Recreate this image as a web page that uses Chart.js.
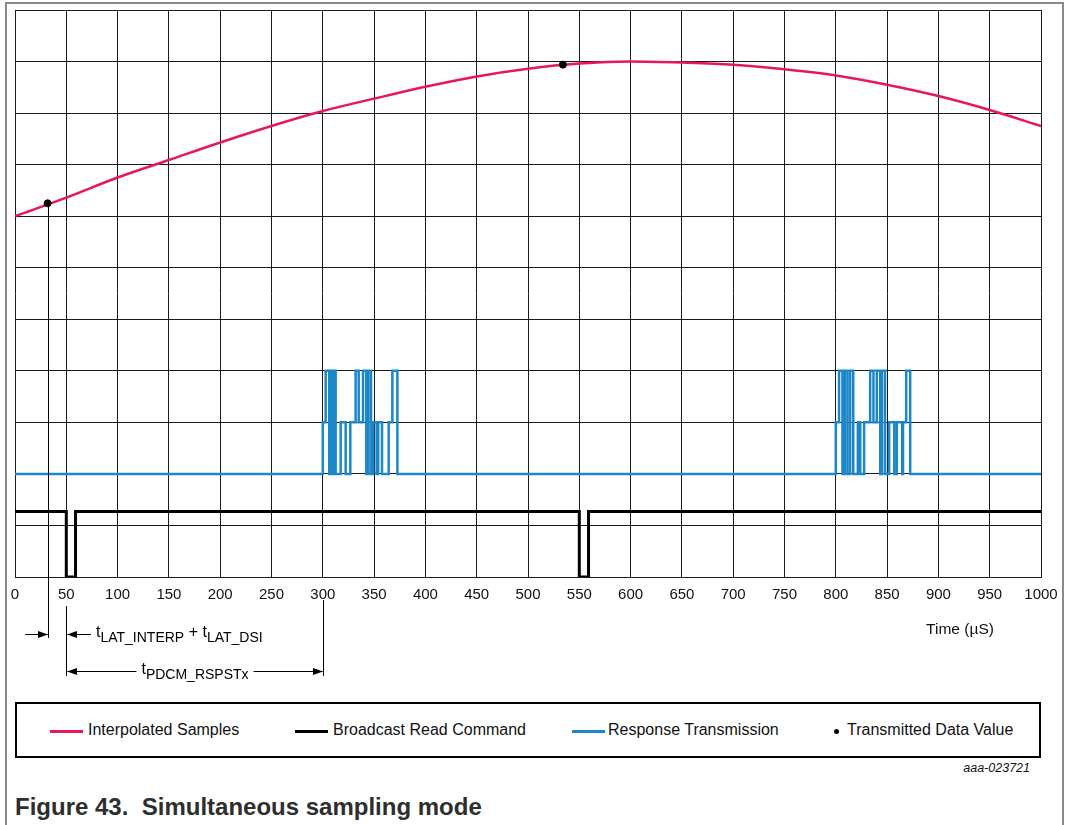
<!DOCTYPE html>
<html>
<head>
<meta charset="utf-8">
<script src="https://cdn.jsdelivr.net/npm/chart.js@4.4.0/dist/chart.umd.min.js"></script>
<style>
  html, body { margin: 0; padding: 0; background: #fff; }
  #wrap { position: relative; width: 1073px; height: 825px; overflow: hidden; font-family: Arial, "Liberation Sans", sans-serif; }
  #frame { position: absolute; left: 5px; top: 2px; width: 1059px; height: 900px; border: 2px solid #8a8a8a; box-sizing: border-box; }
  #chartBox { position: absolute; left: 0; top: 0; width: 1073px; height: 690px; }
  #legend { position: absolute; left: 15px; top: 702px; width: 1026px; height: 56px; border: 2px solid #000; box-sizing: border-box; }
  .sw { position: absolute; height: 3px; top: 26px; }
  .lt { position: absolute; top: 16px; font-size: 16px; color: #111; white-space: nowrap; line-height: 20px; }
  .dot { position: absolute; width: 5px; height: 5px; border-radius: 50%; background: #000; top: 25px; }
  #code { position: absolute; right: 43px; top: 761px; font-size: 12.5px; font-style: italic; color: #111; }
  #title { position: absolute; left: 15px; top: 793px; font-size: 24px; font-weight: bold; color: #2e2e2e; white-space: nowrap; line-height: 28px; }
</style>
</head>
<body>
<div id="wrap">
  <div id="frame"></div>
  <div id="chartBox"><canvas id="c" width="1073" height="690"></canvas></div>
  <div id="legend"></div>
  <div id="code">aaa-023721</div>
  <div id="title">Figure 43.&nbsp; Simultaneous sampling mode</div>
</div>
<script>
// ---- data ----
const xTicks = [0,50,100,150,200,250,300,350,400,450,500,550,600,650,700,750,800,850,900,950,1000];

const curveX = [0, 50, 100, 150, 200, 250, 300, 350, 400, 450, 500, 550, 600, 650, 700, 750, 800, 850, 900, 950, 1000];
const curveY = [7.0, 7.36, 7.75, 8.09, 8.43, 8.75, 9.04, 9.28, 9.51, 9.71, 9.86, 9.96, 10.0, 9.98, 9.94, 9.85, 9.73, 9.55, 9.33, 9.06, 8.75];

const bcX = [0, 50, 59, 550, 559, 1000];
const bcY = [1.27, 0, 1.27, 0, 1.27, 1.27];

const rtX = [0, 300, 302.8, 306.3, 308.6, 310.2, 311.2, 312.5, 317.4, 322.3, 326.8, 332, 335, 339.2, 342.4, 344.4, 347, 349, 352.5, 354, 357.7, 364.2, 367.8, 372.7,
             800, 803.2, 806.5, 808.8, 811.4, 814, 817, 821.5, 823.8, 827.6, 833.5, 836.7, 840, 843.3, 845, 848, 852, 857, 859.5, 864.7, 865.5, 868.6, 872.5, 1000];
const rtY = [2, 3, 4, 2, 4, 2, 4, 2, 3, 2, 3, 4, 3, 4, 2, 4, 2, 3, 2, 3, 2, 3, 4, 2,
             3, 4, 2, 4, 2, 4, 2, 3, 2, 3, 4, 3, 4, 2, 4, 2, 3, 2, 3, 2, 3, 4, 2, 2];

const dotX = [31.8, 534];
const dotY = [7.25, 9.94];

const seriesNames = ['Interpolated Samples', 'Broadcast Read Command', 'Response Transmission', 'Transmitted Data Value'];
const seriesColors = ['#e8175d', '#000000', '#1b87c9', '#000000'];

const latLabel = ['t', 'LAT_INTERP', ' + ', 't', 'LAT_DSI'];
const pdcmLabel = ['t', 'PDCM_RSPSTx'];
const axisTitle = 'Time (µS)';

// ---- build ----
const zip = (xs, ys) => xs.map((x, i) => ({ x: x, y: ys[i] }));

const FONT = 'Arial, "Liberation Sans", sans-serif';

function arrowHead(ctx, x, y, dir) {
  ctx.beginPath();
  ctx.moveTo(x, y);
  ctx.lineTo(x - dir * 10, y - 3.5);
  ctx.lineTo(x - dir * 10, y + 3.5);
  ctx.closePath();
  ctx.fill();
}

function isSubPart(p) { return p !== ' + ' && p !== 't'; }
function drawSubText(ctx, parts, x, y) {
  let cx = x;
  parts.forEach(p => {
    const sub = isSubPart(p);
    ctx.font = (sub ? '14px ' : '16px ') + FONT;
    ctx.fillText(p, cx, sub ? y + 5 : y);
    cx += ctx.measureText(p).width;
  });
  return cx;
}
function measureSubText(ctx, parts) {
  let w = 0;
  parts.forEach(p => {
    ctx.font = (isSubPart(p) ? '14px ' : '16px ') + FONT;
    w += ctx.measureText(p).width;
  });
  return w;
}

const annot = {
  id: 'annot',
  afterDraw(chart) {
    const ctx = chart.ctx;
    const xs = chart.scales.x, ys = chart.scales.y;
    const px = v => xs.getPixelForValue(v);
    ctx.save();
    ctx.strokeStyle = '#000';
    ctx.fillStyle = '#000';
    ctx.lineWidth = 1;
    const xd = Math.round(px(dotX[0])) + 0.5;
    const x50 = Math.round(px(bcX[1])) + 0.5;
    const x300 = Math.round(px(rtX[1])) + 0.5;
    const yDot = ys.getPixelForValue(dotY[0]);
    const yA = 634, yB = 671;
    ctx.beginPath();
    ctx.moveTo(xd, yDot); ctx.lineTo(xd, 638);
    ctx.moveTo(x50, 606); ctx.lineTo(x50, 676);
    ctx.moveTo(x300, 600); ctx.lineTo(x300, 676);
    ctx.stroke();
    ctx.beginPath(); ctx.moveTo(25, yA + 0.5); ctx.lineTo(xd - 1, yA + 0.5); ctx.stroke();
    arrowHead(ctx, xd - 0.5, yA + 0.5, 1);
    ctx.beginPath(); ctx.moveTo(x50 + 1, yA + 0.5); ctx.lineTo(91, yA + 0.5); ctx.stroke();
    arrowHead(ctx, x50 + 0.5, yA + 0.5, -1);
    ctx.textBaseline = 'alphabetic';
    ctx.textAlign = 'left';
    drawSubText(ctx, latLabel, 96, yA + 3);
    const w = measureSubText(ctx, pdcmLabel);
    const tx = (x50 + x300) / 2 - w / 2;
    ctx.beginPath(); ctx.moveTo(x50 + 1, yB + 0.5); ctx.lineTo(tx - 5, yB + 0.5); ctx.stroke();
    arrowHead(ctx, x50 + 0.5, yB + 0.5, -1);
    ctx.beginPath(); ctx.moveTo(tx + w + 5, yB + 0.5); ctx.lineTo(x300 - 1, yB + 0.5); ctx.stroke();
    arrowHead(ctx, x300 - 0.5, yB + 0.5, 1);
    drawSubText(ctx, pdcmLabel, tx, yB + 3);
    ctx.font = '15.5px ' + FONT;
    ctx.textAlign = 'center';
    ctx.fillStyle = '#111';
    ctx.fillText(axisTitle, 960, 634);
    ctx.restore();
  }
};

new Chart(document.getElementById('c'), {
  type: 'line',
  data: {
    datasets: [
      { label: seriesNames[0], data: zip(curveX, curveY), borderColor: seriesColors[0], borderWidth: 2.5, pointRadius: 0, cubicInterpolationMode: 'monotone', fill: false, order: 3 },
      { label: seriesNames[1], data: zip(bcX, bcY), borderColor: seriesColors[1], borderWidth: 3, pointRadius: 0, stepped: 'before', fill: false, order: 2 },
      { label: seriesNames[2], data: zip(rtX, rtY), borderColor: seriesColors[2], borderWidth: 2.5, pointRadius: 0, stepped: 'before', fill: false, order: 2 },
      { label: seriesNames[3], type: 'scatter', data: zip(dotX, dotY), backgroundColor: seriesColors[3], borderColor: seriesColors[3], pointRadius: 3.5, order: 1 }
    ]
  },
  options: {
    responsive: false,
    animation: false,
    events: [],
    layout: { padding: { left: 15, right: 32, top: 10, bottom: 0 } },
    plugins: { legend: { display: false }, tooltip: { enabled: false } },
    scales: {
      x: {
        type: 'linear', min: 0, max: 1000,
        afterBuildTicks: s => { s.ticks = xTicks.map(v => ({ value: v })); },
        afterFit: s => { s.height = 113; },
        grid: { color: '#1a1a1a', lineWidth: 1, drawTicks: false },
        border: { color: '#1a1a1a', width: 1 },
        ticks: { padding: 9, color: '#111', font: { family: FONT, size: 15 }, maxRotation: 0, autoSkip: false, callback: v => String(v) }
      },
      y: {
        type: 'linear', min: 0, max: 11,
        ticks: { stepSize: 1, display: false },
        afterFit: s => { s.width = 0; },
        grid: { color: '#1a1a1a', lineWidth: 1, drawTicks: false },
        border: { display: false }
      }
    }
  },
  plugins: [annot]
});

// ---- HTML legend built from series names/colors ----
const lg = document.getElementById('legend');
const swLeft = [33, 278, 555, 817];
const txtLeft = [71, 316, 591, 830];
seriesNames.forEach((n, i) => {
  if (i < 3) {
    const s = document.createElement('div');
    s.className = 'sw';
    s.style.left = swLeft[i] + 'px';
    s.style.width = '33px';
    s.style.background = seriesColors[i];
    lg.appendChild(s);
  } else {
    const d = document.createElement('div');
    d.className = 'dot';
    d.style.left = swLeft[i] + 'px';
    lg.appendChild(d);
  }
  const t = document.createElement('div');
  t.className = 'lt';
  t.style.left = txtLeft[i] + 'px';
  t.textContent = n;
  lg.appendChild(t);
});
</script>
</body>
</html>
